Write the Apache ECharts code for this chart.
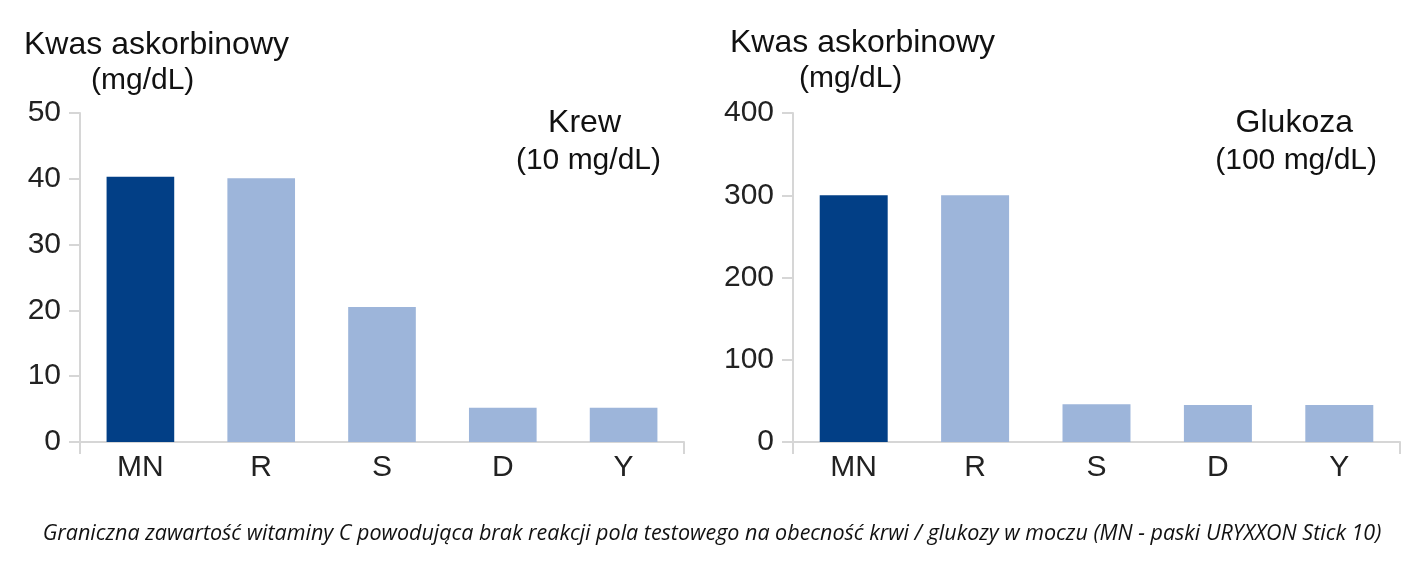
<!DOCTYPE html>
<html><head><meta charset="utf-8">
<script src="https://cdn.jsdelivr.net/npm/echarts@6/dist/echarts.min.js"></script>
<style>html,body{margin:0;padding:0;background:#fff}#c{width:1424px;height:563px}</style>
</head><body><div id="c"></div>
<script>
const categories = ['MN', 'R', 'S', 'D', 'Y'];
const bloodValues = [40.3, 40.1, 20.5, 5.2, 5.2];
const glucoseValues = [300, 300, 46, 45, 45];
const bloodAxis = { min: 0, max: 50, interval: 10 };
const glucoseAxis = { min: 0, max: 400, interval: 100 };
const yTitle = 'Kwas askorbinowy';
const yUnit = '(mg/dL)';
const panelTitles = ['Krew', 'Glukoza'];
const panelSubs = ['(10 mg/dL)', '(100 mg/dL)'];
const caption = 'Graniczna zawartość witaminy C powodująca brak reakcji pola testowego na obecność krwi / glukozy w moczu (MN - paski URYXXON Stick 10)';

const DARK = '#023F86', LIGHT = '#9DB5DA', FONT = 'Liberation Sans';
const txt = (size) => ({ fontFamily: FONT, fontSize: size, fontWeight: 'normal', color: '#111' });

function colored(vals) {
  return vals.map((v, i) => ({ value: v, itemStyle: { color: i === 0 ? DARK : LIGHT } }));
}
function xAxis(gi) {
  return {
    type: 'category', gridIndex: gi, data: categories,
    axisLine: { lineStyle: { color: '#d6d6d6', width: 2 } },
    axisTick: { show: true, length: 12, lineStyle: { color: '#d6d6d6', width: 2 }, interval: (i) => i === 0 },
    axisLabel: { fontFamily: FONT, fontSize: 30, color: '#222', margin: 11 }
  };
}
function yAxis(gi, a) {
  return {
    type: 'value', gridIndex: gi, min: a.min, max: a.max, interval: a.interval,
    axisLine: { show: true, lineStyle: { color: '#d6d6d6', width: 2 } },
    axisTick: { show: true, length: 11, lineStyle: { color: '#d6d6d6', width: 2 } },
    splitLine: { show: false },
    axisLabel: { fontFamily: FONT, fontSize: 30, color: '#222', margin: 19, padding: [4, 0, 0, 0] }
  };
}
const chart = echarts.init(document.getElementById('c'), null, { renderer: 'canvas' });
chart.setOption({
  animation: false,
  title: [
    { text: yTitle, left: 19, top: 24, textStyle: txt(32) },
    { text: yUnit, left: 86, top: 61, textStyle: txt(30) },
    { text: panelTitles[0], right: 1424 - 626, top: 102, textStyle: txt(32) },
    { text: panelSubs[0], right: 1424 - 666, top: 141, textStyle: txt(30) },
    { text: yTitle, left: 725, top: 22, textStyle: txt(32) },
    { text: yUnit, left: 794, top: 59, textStyle: txt(30) },
    { text: panelTitles[1], right: 1424 - 1358, top: 102, textStyle: txt(32) },
    { text: panelSubs[1], right: 1424 - 1382, top: 141, textStyle: txt(30) },
    { text: caption, left: 'center', top: 518, textStyle: { fontFamily: 'Open Sans', fontStyle: 'italic', fontSize: 21.5, fontWeight: 'normal', color: '#111' } }
  ],
  grid: [
    { left: 80, right: 1424 - 684, top: 113, bottom: 563 - 442 },
    { left: 793, right: 1424 - 1400, top: 113, bottom: 563 - 442 }
  ],
  xAxis: [xAxis(0), xAxis(1)],
  yAxis: [yAxis(0, bloodAxis), yAxis(1, glucoseAxis)],
  series: [
    { type: 'bar', xAxisIndex: 0, yAxisIndex: 0, data: colored(bloodValues), barWidth: '56%' },
    { type: 'bar', xAxisIndex: 1, yAxisIndex: 1, data: colored(glucoseValues), barWidth: '56%' }
  ]
});
</script></body></html>
